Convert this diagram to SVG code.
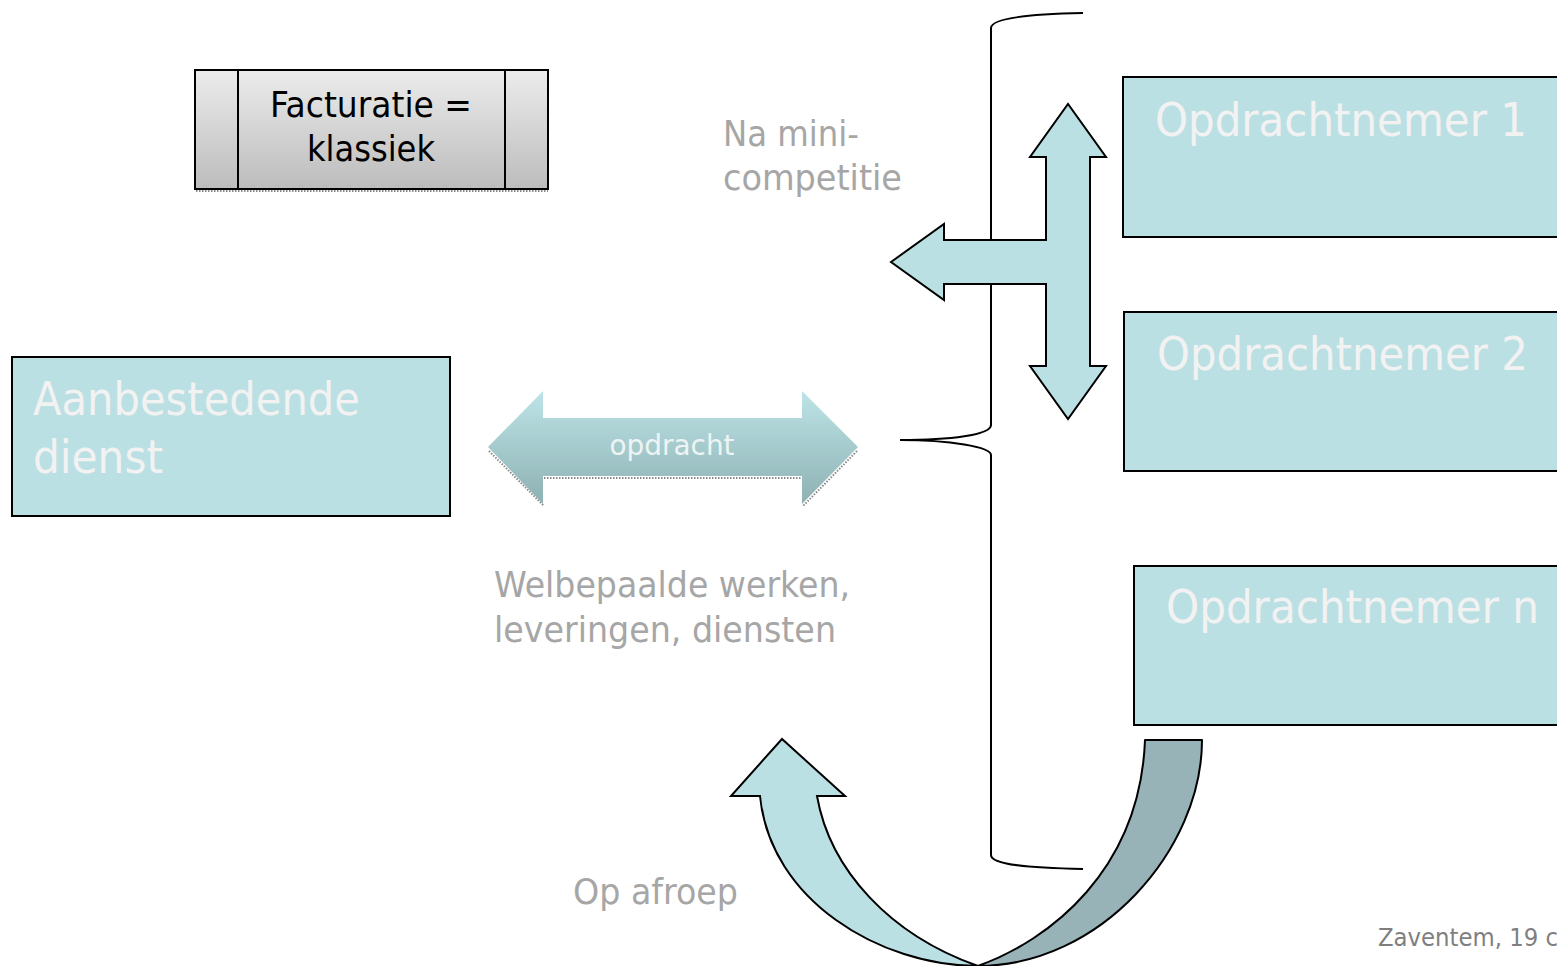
<svg xmlns="http://www.w3.org/2000/svg" width="1557" height="966" viewBox="0 0 1557 966">
<defs>
<linearGradient id="gGray" x1="0" y1="0" x2="0" y2="1">
<stop offset="0" stop-color="#ececec"/>
<stop offset="1" stop-color="#bcbcbc"/>
</linearGradient>
<linearGradient id="gTeal" x1="0" y1="0" x2="0" y2="1">
<stop offset="0" stop-color="#bde4e7"/>
<stop offset="1" stop-color="#8eb1b3"/>
</linearGradient>
<style>
.box{fill:#bbe0e3;stroke:#000;stroke-width:2}
.big{font-family:'DejaVu Sans Condensed','DejaVu Sans',sans-serif;font-stretch:condensed;font-size:47px;fill:#f2f2f2}
.lbl{font-family:'DejaVu Sans Condensed','DejaVu Sans',sans-serif;font-stretch:condensed;font-size:35px;fill:#a6a6a6}
.blk{font-family:'DejaVu Sans Condensed','DejaVu Sans',sans-serif;font-stretch:condensed;font-size:36px;fill:#000}
.shape{fill:#bbe0e3;stroke:#000;stroke-width:2;stroke-linejoin:miter}
.shadow{fill:none;stroke:#8a8a8a;stroke-width:2;stroke-dasharray:1.5 1.5}
</style>
</defs>
<rect width="1557" height="966" fill="#ffffff"/>

<g id="connectors">
<path id="brace" d="M1083,13 C1030,14 991,18 991,28 L991,425 C991,435 950,440 900,440 C950,440 991,447 991,455 L991,855 C991,865 1030,868 1083,869" fill="none" stroke="#000" stroke-width="2"/>
<path id="cross-arrow" class="shape" d="M891,262 L944,224 L944,240 L1046,240 L1046,157 L1030,157 L1068,104 L1106,157 L1090,157 L1090,366 L1106,366 L1068,419 L1030,366 L1046,366 L1046,284 L944,284 L944,300 Z"/>
<g id="opdracht-arrow">
<path class="shadow" d="M489,451 L544,506 M544,478 L802,478 M857,451 L803,506"/>
<path d="M488,447 L543,391 L543,418 L802,418 L802,391 L858,447 L802,504 L802,476 L543,476 L543,504 Z" fill="url(#gTeal)"/>
<text x="672" y="455" text-anchor="middle" font-family="'DejaVu Sans Condensed','DejaVu Sans',sans-serif" font-stretch="condensed" font-size="28" fill="#eef4f4" textLength="125" lengthAdjust="spacingAndGlyphs">opdracht</text>
</g>
<g id="afroep-arrow">
<path d="M1145,740 L1202,740 C1202,850 1100,966 978,966 C1050,940 1140,870 1145,740 Z" fill="#97b3b7" stroke="#000" stroke-width="2" stroke-linejoin="round"/>
<path d="M978,966 C880,966 770,900 760,796 L731,796 L782,739 L845,796 L817,796 C830,870 890,935 978,966 Z" class="shape"/>
</g>
</g>

<g id="facturatie">
<path class="shadow" d="M196,191 L548,191"/>
<rect x="195" y="70" width="353" height="119" fill="url(#gGray)" stroke="#000" stroke-width="2"/>
<line x1="238" y1="70" x2="238" y2="189" stroke="#000" stroke-width="2"/>
<line x1="505" y1="70" x2="505" y2="189" stroke="#000" stroke-width="2"/>
<text class="blk" x="371" y="117" text-anchor="middle" textLength="202" lengthAdjust="spacingAndGlyphs">Facturatie =</text>
<text class="blk" x="371" y="161" text-anchor="middle" textLength="128" lengthAdjust="spacingAndGlyphs">klassiek</text>
</g>

<g id="aanbestedende-dienst">
<rect class="box" x="12" y="357" width="438" height="159"/>
<text class="big" x="33" y="415" textLength="327" lengthAdjust="spacingAndGlyphs">Aanbestedende</text>
<text class="big" x="33" y="473" textLength="130" lengthAdjust="spacingAndGlyphs">dienst</text>
</g>

<g id="opdrachtnemer-1">
<rect class="box" x="1123" y="77" width="440" height="160"/>
<text class="big" x="1155" y="136" textLength="372" lengthAdjust="spacingAndGlyphs">Opdrachtnemer 1</text>
</g>

<g id="opdrachtnemer-2">
<rect class="box" x="1124" y="312" width="440" height="159"/>
<text class="big" x="1157" y="370" textLength="371" lengthAdjust="spacingAndGlyphs">Opdrachtnemer 2</text>
</g>

<g id="opdrachtnemer-n">
<rect class="box" x="1134" y="566" width="430" height="159"/>
<text class="big" x="1166" y="623" textLength="373" lengthAdjust="spacingAndGlyphs">Opdrachtnemer n</text>
</g>

<g id="labels">
<text class="lbl" x="723" y="146" textLength="136" lengthAdjust="spacingAndGlyphs">Na mini-</text>
<text class="lbl" x="723" y="190" textLength="179" lengthAdjust="spacingAndGlyphs">competitie</text>
<text class="lbl" x="494" y="597" textLength="356" lengthAdjust="spacingAndGlyphs">Welbepaalde werken,</text>
<text class="lbl" x="494" y="642" textLength="342" lengthAdjust="spacingAndGlyphs">leveringen, diensten</text>
<text class="lbl" x="573" y="904" textLength="165" lengthAdjust="spacingAndGlyphs">Op afroep</text>
<text x="1378" y="946" font-family="'DejaVu Sans Condensed','DejaVu Sans',sans-serif" font-stretch="condensed" font-size="25" fill="#7f7f7f" textLength="180" lengthAdjust="spacingAndGlyphs">Zaventem, 19 c</text>
</g>
</svg>
